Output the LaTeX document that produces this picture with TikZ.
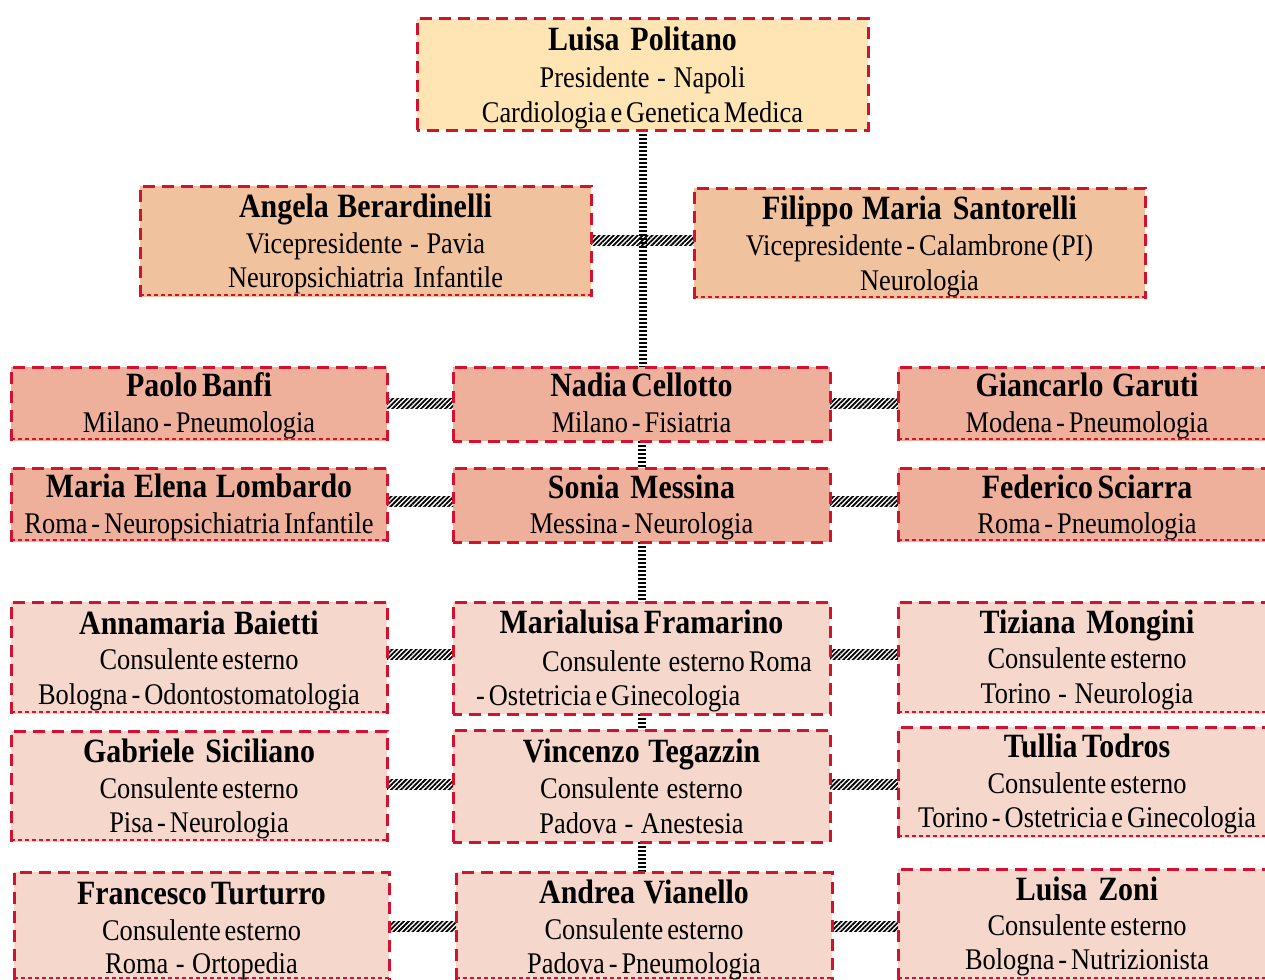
\documentclass[tikz,border=0pt]{standalone}
\usepackage{fontspec}
\setmainfont[FakeStretch=0.88,WordSpace=0.6]{Liberation Serif}
\usetikzlibrary{calc,patterns.meta}
\definecolor{cTop}{RGB}{255,229,180}
\definecolor{cVP}{RGB}{241,194,158}
\definecolor{cMid}{RGB}{238,176,155}
\definecolor{cLow}{RGB}{245,216,203}
\definecolor{cRed}{RGB}{210,18,46}
\newcommand\nsp{\hspace{0.12em}}
\newcommand\wsp{\hspace{0.32em}}
\newcommand\sideborder[1]{%
  \draw[rdash] (#1.south west) -- (#1.north west) -- (#1.north east) -- (#1.south east);
  \draw[rdot] ([yshift=2pt]#1.south west) -- ([yshift=2pt]#1.south east);}
\newcommand\fullborder[1]{\draw[rdash] (#1.south west) rectangle (#1.north east);}
\newcommand\hcon[3]{\fill[hatch] ($(#1.east)+(0,#3-5)$) rectangle ($(#2.west |- #1.east)+(0,#3+5)$);}
\newcommand\vcon[2]{\draw[vlad] (#1.south) -- (#1.south |- #2.north);}
\begin{document}
\begin{tikzpicture}[x=1pt,y=-1pt,
  pbox/.style={rectangle, draw=none, inner sep=0pt, outer sep=0pt},
  rdash/.style={draw=cRed, line width=3pt, dash pattern=on 12pt off 7pt},
  rdot/.style={draw=cRed, line width=1.9pt, dash pattern=on 4pt off 3pt},
  nm/.style={font=\fontsize{34}{34}\selectfont\bfseries, anchor=base, inner sep=0pt},
  tx/.style={font=\fontsize{30}{30}\selectfont, anchor=base, inner sep=0pt},
  hatch/.style={pattern={Lines[angle=45,distance=3.4pt,line width=1.8pt]}, pattern color=black},
  vlad/.style={draw=black, line width=8pt, dash pattern=on 2pt off 2pt}]
\useasboundingbox (0,0) rectangle (1265,979);
\fill[white] (0,0) rectangle (1265,979);

% ---------- boxes ----------
\node[pbox, fill=cTop, minimum width=451pt, minimum height=111pt] (lp) at (642.5,74.5) {};
\node[pbox, fill=cVP, minimum width=451pt, minimum height=111pt] (ab) at (365.5,241.5) {};
\node[pbox, fill=cVP, minimum width=451pt, minimum height=111pt] (fs) at (919.5,243.5) {};

\node[pbox, fill=cMid, minimum width=376pt, minimum height=74pt] (pb) at (199,404) {};
\node[pbox, fill=cMid, minimum width=377pt, minimum height=74pt] (nc) at (641.5,404) {};
\node[pbox, fill=cMid, minimum width=378pt, minimum height=74pt] (gg) at (1087,404) {};

\node[pbox, fill=cMid, minimum width=376pt, minimum height=74pt] (ml) at (199,505) {};
\node[pbox, fill=cMid, minimum width=377pt, minimum height=74pt] (sm) at (641.5,505) {};
\node[pbox, fill=cMid, minimum width=378pt, minimum height=74pt] (fsc) at (1087,505) {};

\node[pbox, fill=cLow, minimum width=376pt, minimum height=112pt] (anb) at (199,658) {};
\node[pbox, fill=cLow, minimum width=377pt, minimum height=112pt] (mf) at (641.5,658) {};
\node[pbox, fill=cLow, minimum width=378pt, minimum height=112pt] (tm) at (1087,658) {};

\node[pbox, fill=cLow, minimum width=376pt, minimum height=111pt] (gs) at (199,786.5) {};
\node[pbox, fill=cLow, minimum width=377pt, minimum height=112pt] (vt) at (641.5,786) {};
\node[pbox, fill=cLow, minimum width=378pt, minimum height=111pt] (tt) at (1087,782.5) {};

\node[pbox, fill=cLow, minimum width=375pt, minimum height=108pt] (ft) at (201.5,926) {};
\node[pbox, fill=cLow, minimum width=376pt, minimum height=108pt] (av) at (644,926) {};
\node[pbox, fill=cLow, minimum width=378pt, minimum height=111pt] (lz) at (1087,924.5) {};

% ---------- connectors ----------
\vcon{lp}{nc}
\hcon{ab}{fs}{-1.5}
\hcon{pb}{nc}{-0.5}
\hcon{nc}{gg}{-0.5}
\vcon{nc}{sm}
\hcon{ml}{sm}{-3.5}
\hcon{sm}{fsc}{-3.5}
\vcon{sm}{mf}
\hcon{anb}{mf}{-4}
\hcon{mf}{tm}{-4}
\vcon{mf}{vt}
\hcon{gs}{vt}{-2.5}
\hcon{vt}{tt}{-2}
\vcon{vt}{av}
\hcon{ft}{av}{0}
\hcon{av}{lz}{0}

% ---------- borders ----------
\fullborder{lp}
\sideborder{ab}
\sideborder{fs}
\sideborder{pb}
\fullborder{nc}
\sideborder{gg}
\sideborder{ml}
\fullborder{sm}
\sideborder{fsc}
\sideborder{anb}
\fullborder{mf}
\sideborder{tm}
\sideborder{gs}
\fullborder{vt}
\sideborder{tt}
\sideborder{ft}
\sideborder{av}
\sideborder{lz}

% ---------- texts ----------
\node[nm] (lp1) at (642.5,51) {Luisa\wsp Politano};
\node[tx] (lp2) at (642.5,88) {Presidente\nsp{} -\nsp{} Napoli};
\node[tx] (lp3) at (642.5,122) {Cardiologia e Genetica Medica};

\node[nm] (ab1) at (365.5,217) {Angela\nsp{} Berardinelli};
\node[tx] (ab2) at (365.5,253) {Vicepresidente\nsp{} -\nsp{} Pavia};
\node[tx] (ab3) at (365.5,287) {Neuropsichiatria\wsp Infantile};

\node[nm] (fs1) at (919.5,219) {Filippo\nsp{} Maria\wsp Santorelli};
\node[tx] (fs2) at (919.5,255) {Vicepresidente - Calambrone (PI)};
\node[tx] (fs3) at (919.5,290) {Neurologia};

\node[nm] (pb1) at (199,396) {Paolo Banfi};
\node[tx] (pb2) at (199,432.5) {Milano - Pneumologia};
\node[nm] (nc1) at (641.5,396) {Nadia Cellotto};
\node[tx] (nc2) at (641.5,432.5) {Milano - Fisiatria};
\node[nm] (gg1) at (1087,396) {Giancarlo\nsp{} Garuti};
\node[tx] (gg2) at (1087,432.5) {Modena - Pneumologia};

\node[nm] (ml1) at (199,497.5) {Maria\nsp{} Elena\nsp{} Lombardo};
\node[tx] (ml2) at (199,533) {Roma - Neuropsichiatria Infantile};
\node[nm] (sm1) at (641.5,498) {Sonia\wsp Messina};
\node[tx] (sm2) at (641.5,533) {Messina - Neurologia};
\node[nm] (fsc1) at (1087,498) {Federico Sciarra};
\node[tx] (fsc2) at (1087,533) {Roma - Pneumologia};

\node[nm] (anb1) at (199,634) {Annamaria\nsp{} Baietti};
\node[tx] (anb2) at (199,669) {Consulente esterno};
\node[tx] (anb3) at (199,704) {Bologna - Odontostomatologia};
\node[nm] (mf1) at (641.5,633.5) {Marialuisa Framarino};
\node[tx, anchor=base west] (mf2) at (542,671.5) {Consulente\nsp{} esterno Roma};
\node[tx, anchor=base west] (mf3) at (476,705) {- Ostetricia e Ginecologia};
\node[nm] (tm1) at (1087,633.5) {Tiziana\wsp Mongini};
\node[tx] (tm2) at (1087,668.5) {Consulente esterno};
\node[tx] (tm3) at (1087,703.5) {Torino\nsp{} -\nsp{} Neurologia};

\node[nm] (gs1) at (199,762.5) {Gabriele\wsp Siciliano};
\node[tx] (gs2) at (199,798) {Consulente esterno};
\node[tx] (gs3) at (199,832) {Pisa - Neurologia};
\node[nm] (vt1) at (641.5,762.5) {Vincenzo\nsp{} Tegazzin};
\node[tx] (vt2) at (641.5,798) {Consulente\nsp{} esterno};
\node[tx] (vt3) at (641.5,833) {Padova\nsp{} -\nsp{} Anestesia};
\node[nm] (tt1) at (1087,757.5) {Tullia Todros};
\node[tx] (tt2) at (1087,793) {Consulente esterno};
\node[tx] (tt3) at (1087,827) {Torino - Ostetricia e Ginecologia};

\node[nm] (ft1) at (201.5,904) {Francesco Turturro};
\node[tx] (ft2) at (201.5,940) {Consulente esterno};
\node[tx] (ft3) at (201.5,973) {Roma\nsp{} -\nsp{} Ortopedia};
\node[nm] (av1) at (644,903) {Andrea\nsp{} Vianello};
\node[tx] (av2) at (644,939) {Consulente esterno};
\node[tx] (av3) at (644,973) {Padova - Pneumologia};
\node[nm] (lz1) at (1087,900) {Luisa\wsp Zoni};
\node[tx] (lz2) at (1087,935) {Consulente esterno};
\node[tx] (lz3) at (1087,969) {Bologna - Nutrizionista};
\end{tikzpicture}
\end{document}
